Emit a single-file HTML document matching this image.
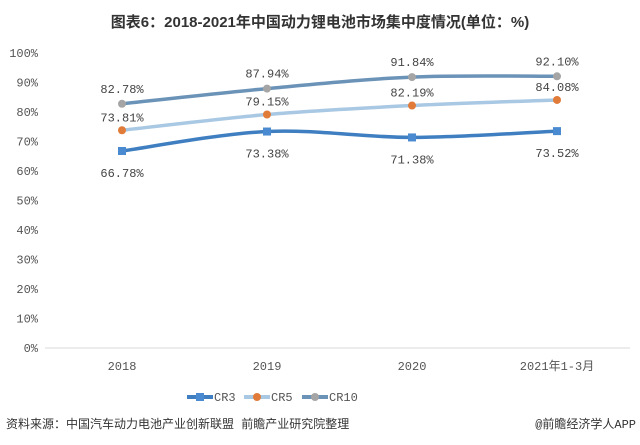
<!DOCTYPE html>
<html><head><meta charset="utf-8"><style>
body{margin:0;background:#fff;}
svg{display:block;font-family:"Liberation Mono","Noto Sans CJK SC",monospace;}
</style></head><body>
<svg id="c" width="640" height="445" viewBox="0 0 640 445">
<text x="320" y="27" text-anchor="middle" font-family="'Liberation Sans','Noto Sans CJK SC',sans-serif" font-weight="bold" font-size="15" fill="#333">图表6：2018-2021年中国动力锂电池市场集中度情况(单位：%)</text>
<g id="axes"></g><g id="series"></g>
<g font-size="12" fill="#555">
<g><line x1="187" y1="397" x2="213" y2="397" stroke="#3f7fc1" stroke-width="4"/><rect x="196" y="393" width="8" height="8" fill="#4a8ad0"/><text x="214" y="401">CR3</text></g>
<g><line x1="244" y1="397" x2="270" y2="397" stroke="#a9c8e3" stroke-width="4"/><circle cx="257" cy="397" r="4" fill="#e07b39"/><text x="271" y="401">CR5</text></g>
<g><line x1="302" y1="397" x2="328" y2="397" stroke="#6b93b8" stroke-width="4"/><circle cx="315" cy="397" r="4" fill="#a5a5a5"/><text x="329" y="401">CR10</text></g>
</g>
<text x="6" y="428" font-size="12" fill="#333">资料来源：中国汽车动力电池产业创新联盟 前瞻产业研究院整理</text>
<text x="636" y="428" text-anchor="end" font-size="12" fill="#333">@前瞻经济学人APP</text>
</svg>
<script>
const categories=["2018","2019","2020","2021年1-3月"];
const yTicks=[0,10,20,30,40,50,60,70,80,90,100];
const cr3=[66.78,73.38,71.38,73.52];
const cr5=[73.81,79.15,82.19,84.08];
const cr10=[82.78,87.94,91.84,92.10];
const NS="http://www.w3.org/2000/svg";
const x=i=>122+i*145;
const y=v=>348-v*2.95;
function mk(t,a,p){const e=document.createElementNS(NS,t);for(const k in a)e.setAttribute(k,a[k]);p.appendChild(e);return e;}
const ax=document.getElementById('axes');
const base=mk('line',{x1:45,x2:630,y1:y(0),y2:y(0),stroke:'#d9d9d9'},ax);


yTicks.forEach(v=>{const t=mk('text',{x:38,y:y(v)+4,'text-anchor':'end','font-size':12,fill:'#555'},ax);t.textContent=v+'%';

});
categories.forEach((c,i)=>{const t=mk('text',{x:x(i),y:370,'text-anchor':'middle','font-size':12,fill:'#555'},ax);t.textContent=c;

});
function path(d){const p=d.map((v,i)=>[x(i),y(v)]);let s='M'+p[0];for(let i=0;i<p.length-1;i++){const p0=p[i-1]||p[i],p1=p[i],p2=p[i+1],p3=p[i+2]||p2;
const c1=[p1[0]+(p2[0]-p0[0])/6,p1[1]+(p2[1]-p0[1])/6],c2=[p2[0]-(p3[0]-p1[0])/6,p2[1]-(p3[1]-p1[1])/6];s+='C'+c1+' '+c2+' '+p2;}return s;}
const sg=document.getElementById('series');
function series(d,name,lc,mc,shape,dy){const g=mk('g',{},sg);


mk('path',{d:path(d),fill:'none',stroke:lc,'stroke-width':3.5},g);
d.forEach((v,i)=>{let m;if(shape==='sq')m=mk('rect',{x:x(i)-4,y:y(v)-4,width:8,height:8,fill:mc},g);else m=mk('circle',{cx:x(i),cy:y(v),r:4,fill:mc},g);


const t=mk('text',{x:x(i),y:y(v)+dy,'text-anchor':'middle','font-size':12,fill:'#444'},g);t.textContent=v.toFixed(2)+'%';

});}
series(cr5,'cr5','#a9c8e3','#e07b39','c',-9);
series(cr10,'cr10','#6b93b8','#a5a5a5','c',-11);
series(cr3,'cr3','#3f7fc1','#4a8ad0','sq',26);
</script>
</body></html>
